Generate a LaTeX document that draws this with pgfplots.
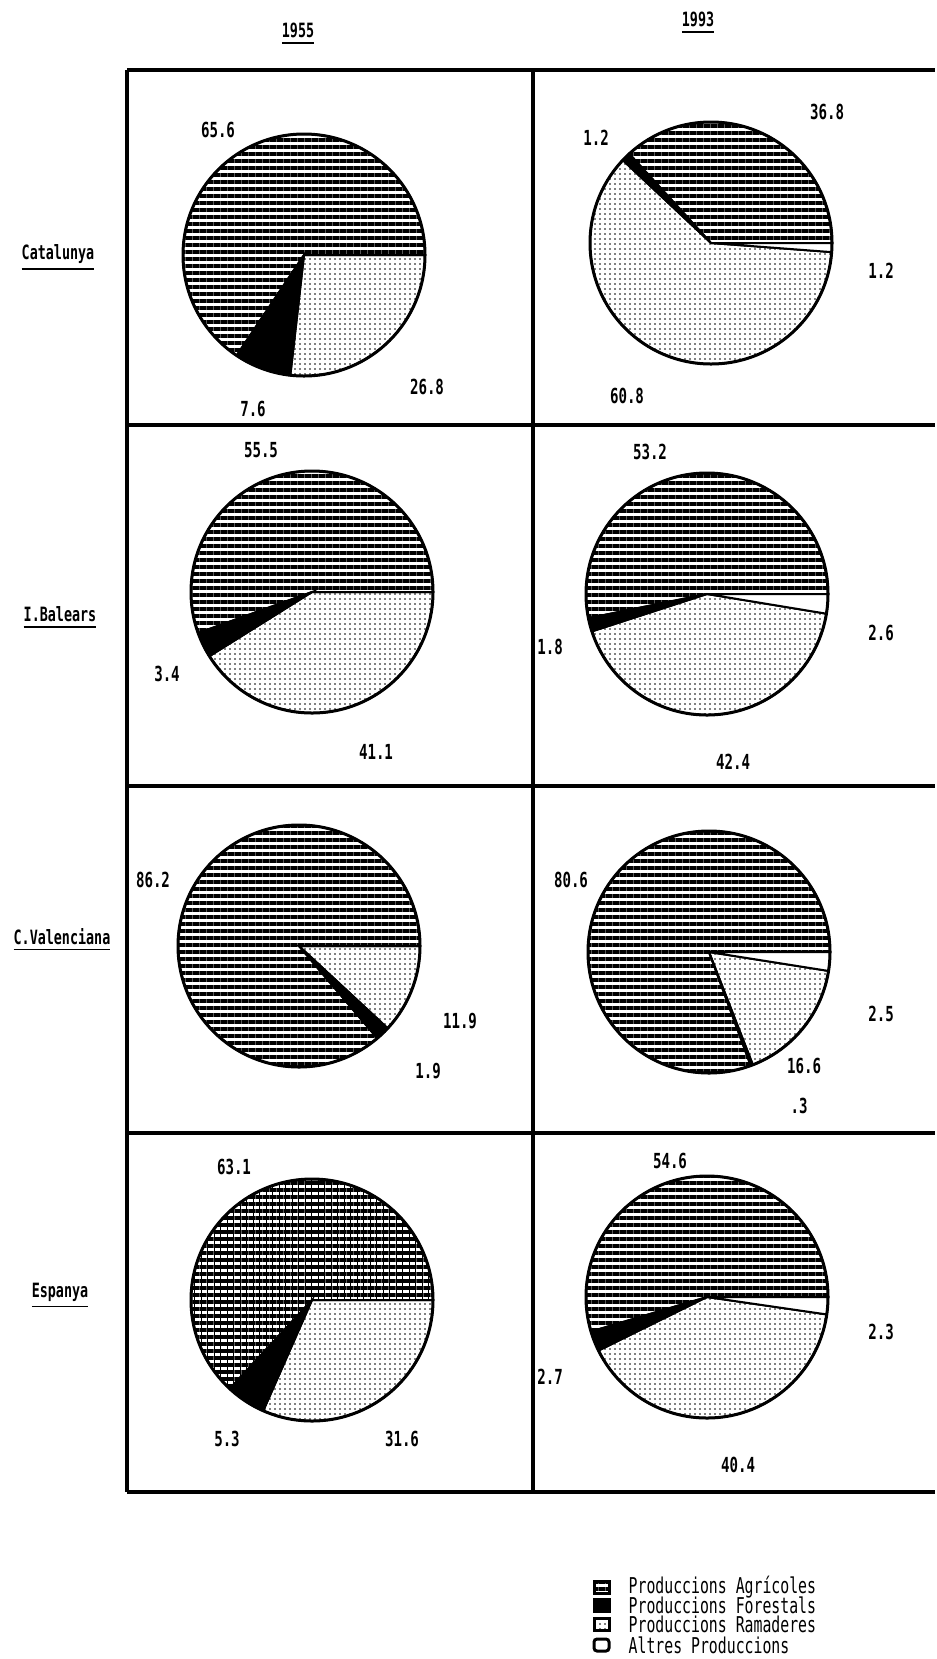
\documentclass[border=0pt]{standalone}
\usepackage{pgfplots}
\pgfplotsset{compat=1.18}
\usetikzlibrary{patterns.meta}
\usepackage{fontspec}
\setmainfont{DejaVu Sans Mono}[FakeStretch=0.68]

\tikzset{
  agri/.style={pattern={Lines[angle=0,distance=0.7mm,line width=0.36mm]}},
  agrigrid/.style={pattern={Lines[angle=0,distance=0.7mm,line width=0.36mm]},
    postaction={pattern={Lines[angle=90,distance=0.65mm,line width=0.1mm]}}},
  fores/.style={fill=black},
  rama/.style={pattern={Dots[distance=0.5mm,radius=0.08mm]}},
  altres/.style={fill=white},
  lab/.style={font=\bfseries\fontsize{5.9}{7}\selectfont, inner sep=0pt},
  row/.style={font=\bfseries\fontsize{5.6}{7}\selectfont, inner sep=0pt},
  leg/.style={font=\fontsize{6.2}{6}\selectfont, inner sep=0pt, anchor=west},
}

% \pie{cx}{cy}{percent/style, ...}  -- slices go counterclockwise from 3 o'clock
\newcommand\pie[3]{%
  \xdef\acc{0}%
  \foreach \v/\s in {#3} {%
    \pgfmathsetmacro\a{\acc*3.6}%
    \pgfmathsetmacro\b{(\acc+\v)*3.6}%
    \filldraw[\s, draw=black, line width=0.2mm] (axis cs:#1,#2) -- ++(\a:12.1mm)
      arc[start angle=\a, end angle=\b, radius=12.1mm] -- cycle;
    \pgfmathsetmacro\n{\acc+\v}\xdef\acc{\n}%
  }%
  \draw[line width=0.3mm] (axis cs:#1,#2) circle[radius=12.1mm];
}

\begin{document}
\begin{tikzpicture}
\begin{axis}[
  width=93.5mm, height=165.9mm, scale only axis,
  xmin=0, xmax=935, ymin=0, ymax=1659, y dir=reverse,
  hide axis, clip=false,
]
% background so the page keeps its full size
\fill[white] (axis cs:0,0) rectangle (axis cs:935,1659);

% --- grid frame ---
\begin{scope}[line width=0.38mm]
\draw (axis cs:127,70) -- (axis cs:935,70);
\draw (axis cs:127,1492) -- (axis cs:935,1492);
\draw (axis cs:127,70) -- (axis cs:127,1492);
\draw (axis cs:533,70) -- (axis cs:533,1492);
\draw (axis cs:127,425) -- (axis cs:935,425);
\draw (axis cs:127,786) -- (axis cs:935,786);
\draw (axis cs:127,1133) -- (axis cs:935,1133);
\end{scope}

% --- column and row headings ---
\node[row] at (axis cs:298,34) {\underline{1955}};
\node[row] at (axis cs:698,23) {\underline{1993}};
\node[row] at (axis cs:58,258) {\underline{Catalunya}};
\node[row] at (axis cs:60,618) {\underline{I.Balears}};
\node[row] at (axis cs:62,940) {\underline{C.Valenciana}};
\node[row] at (axis cs:60,1296) {\underline{Espanya}};

% --- pies: agricoles / forestals / ramaderes / altres ---
\pgfplotsextra{
  \pie{304}{255}{65.6/agri, 7.6/fores, 26.8/rama}
  \pie{711}{243}{36.8/agri, 1.2/fores, 60.8/rama, 1.2/altres}
  \pie{312}{592}{55.5/agri, 3.4/fores, 41.1/rama}
  \pie{707}{594}{53.2/agri, 1.8/fores, 42.4/rama, 2.6/altres}
  \pie{299}{946}{86.2/agri, 1.9/fores, 11.9/rama}
  \pie{709}{952}{80.6/agri, 0.3/fores, 16.6/rama, 2.5/altres}
  \pie{312}{1300}{63.1/agrigrid, 5.3/fores, 31.6/rama}
  \pie{707}{1297}{54.6/agri, 2.7/fores, 40.4/rama, 2.3/altres}
}

% --- value labels ---
\node[lab] at (axis cs:218,130) {65.6};
\node[lab] at (axis cs:253,409) {7.6};
\node[lab] at (axis cs:427,387) {26.8};
\node[lab] at (axis cs:596,138) {1.2};
\node[lab] at (axis cs:827,112) {36.8};
\node[lab] at (axis cs:881,271) {1.2};
\node[lab] at (axis cs:627,396) {60.8};
\node[lab] at (axis cs:261,450) {55.5};
\node[lab] at (axis cs:167,674) {3.4};
\node[lab] at (axis cs:376,752) {41.1};
\node[lab] at (axis cs:650,452) {53.2};
\node[lab] at (axis cs:550,647) {1.8};
\node[lab] at (axis cs:733,762) {42.4};
\node[lab] at (axis cs:881,633) {2.6};
\node[lab] at (axis cs:153,880) {86.2};
\node[lab] at (axis cs:428,1071) {1.9};
\node[lab] at (axis cs:460,1021) {11.9};
\node[lab] at (axis cs:571,880) {80.6};
\node[lab] at (axis cs:799,1106) {.3};
\node[lab] at (axis cs:804,1066) {16.6};
\node[lab] at (axis cs:881,1014) {2.5};
\node[lab] at (axis cs:234,1167) {63.1};
\node[lab] at (axis cs:227,1439) {5.3};
\node[lab] at (axis cs:402,1439) {31.6};
\node[lab] at (axis cs:670,1161) {54.6};
\node[lab] at (axis cs:550,1377) {2.7};
\node[lab] at (axis cs:738,1465) {40.4};
\node[lab] at (axis cs:881,1332) {2.3};

% --- legend ---
\begin{scope}[draw=black, line width=0.3mm]
\filldraw[agri] (axis cs:594,1581) rectangle (axis cs:609,1593);
\filldraw[fores] (axis cs:594,1599) rectangle (axis cs:609,1611);
\filldraw[rama] (axis cs:594,1618) rectangle (axis cs:609,1630);
\filldraw[altres, rounded corners=0.3mm] (axis cs:594,1639) rectangle (axis cs:609,1651);
\end{scope}
\node[leg] at (axis cs:628,1587) {Produccions Agrícoles};
\node[leg] at (axis cs:628,1605) {Produccions Forestals};
\node[leg] at (axis cs:628,1624) {Produccions Ramaderes};
\node[leg] at (axis cs:628,1645) {Altres Produccions};
\end{axis}
\end{tikzpicture}
\end{document}
